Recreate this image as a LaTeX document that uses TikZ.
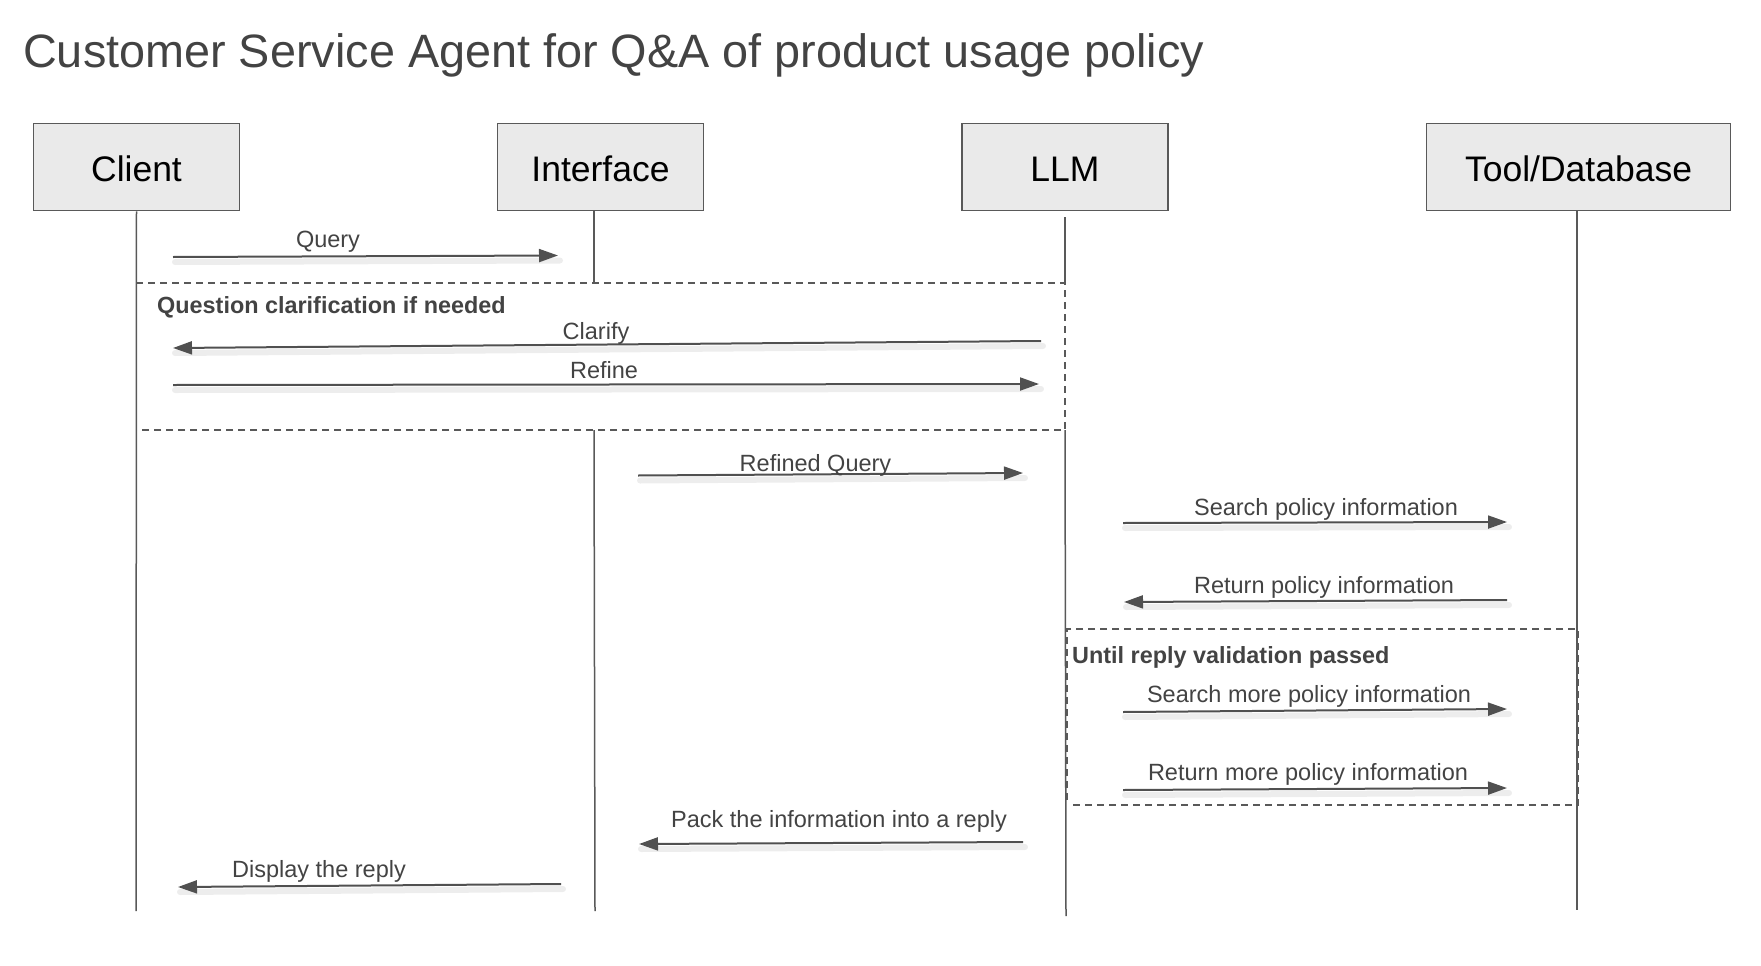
\documentclass[tikz,border=0pt]{standalone}
\usepackage{fontspec}
\setmainfont{Liberation Sans}
\usetikzlibrary{arrows.meta}
\definecolor{txtgray}{HTML}{434343}
\definecolor{linegray}{HTML}{595959}
\definecolor{arrgray}{HTML}{505050}
\definecolor{boxfill}{HTML}{EAEAEA}
\tikzset{
  actor/.style={draw=linegray, line width=1.6pt, fill=boxfill, minimum width=206pt, minimum height=87pt, inner sep=0pt, text height=29pt, text depth=0pt, font=\fontsize{35.5}{40}\selectfont, text=black},
  wideactor/.style={actor, minimum width=304pt},
  lifeline/.style={draw=linegray, line width=1.5pt},
  frame/.style={draw=linegray, line width=1.5pt, dash pattern=on 7pt off 5pt},
  msg/.style={draw=arrgray, line width=2pt, -{Triangle[length=19pt,width=13pt]}},
  msgshadow/.style={draw=black, opacity=0.07, line width=6pt, line cap=round},
  lbl/.style={anchor=base, inner sep=0pt, text=txtgray, font=\fontsize{23.5}{26}\selectfont},
  flbl/.style={anchor=base west, inner sep=0pt, text=txtgray, font=\fontsize{23.4}{26}\selectfont\bfseries},
}
\newcommand{\msgline}[2]{%
  \draw[msgshadow] ([shift={(2pt,-5pt)}]#1) -- ([shift={(2pt,-5pt)}]#2);
  \draw[msg] (#1) -- (#2);}
\begin{document}
\begin{tikzpicture}[x=1pt,y=-1pt]
\useasboundingbox (0,0) rectangle (1761,966);
% title
\node[anchor=base west, inner sep=0pt, text=txtgray, font=\fontsize{46.8}{52}\selectfont] (title) at (23,67.5) {Customer Service Agent for Q\&A of product usage policy};
% actors
\node[actor] (client) at (136.5,167) {Client};
\node[actor] (iface) at (600.5,167) {Interface};
\node[actor] (llm) at (1065,167) {LLM};
\node[wideactor] (tool) at (1578.5,167) {Tool/Database};
% lifeline coordinates
\coordinate (cB) at (136,911);
\coordinate (iT) at (594,211);
\coordinate (iM1) at (594,283);
\coordinate (iM2) at (594,430);
\coordinate (iB) at (595,911);
\coordinate (lT) at (1065,217);
\coordinate (lM1) at (1065,283);
\coordinate (lM2) at (1065,430);
\coordinate (lB) at (1066,916);
\coordinate (tB) at (1577,910);
\draw[lifeline] (client.south) -- (cB);
\draw[lifeline] (iT) -- (iM1);
\draw[lifeline] (iM2) -- (iB);
\draw[lifeline] (lT) -- (lM1);
\draw[lifeline] (lM2) -- (lB);
\draw[lifeline] (tool.south -| tB) -- (tB);
% frames
\coordinate (f1a) at (136,283);
\coordinate (f1b) at (1065,430);
\draw[frame] (f1a) -- (lM1) -- (f1b) -- (136,430);
\coordinate (f2a) at (1067,629);
\coordinate (f2b) at (1578,629);
\coordinate (f2c) at (1578,805);
\coordinate (f2d) at (1073,805);
\draw[frame] (f2d) -- (f2c) -- (f2b) -- (f2a) -- (1067,800);
\node[flbl] (f1lbl) at (157,313) {Question clarification if needed};
\node[flbl] (f2lbl) at (1072,663) {Until reply validation passed};
% messages
\coordinate (m1a) at (173,257);   \coordinate (m1b) at (558,255.5);
\coordinate (m2a) at (1041,341);  \coordinate (m2b) at (173,348);
\coordinate (m3a) at (173,385);   \coordinate (m3b) at (1039,384);
\coordinate (m4a) at (638,475.5); \coordinate (m4b) at (1023,473);
\coordinate (m5a) at (1123,523);  \coordinate (m5b) at (1507,522);
\coordinate (m6a) at (1507,600);  \coordinate (m6b) at (1124,602);
\coordinate (m7a) at (1123,712);  \coordinate (m7b) at (1507,709);
\coordinate (m8a) at (1123,790);  \coordinate (m8b) at (1507,788);
\coordinate (m9a) at (1023,842);  \coordinate (m9b) at (639,844);
\coordinate (m10a) at (561,884);  \coordinate (m10b) at (178,887);
\msgline{m1a}{m1b}
\msgline{m2a}{m2b}
\msgline{m3a}{m3b}
\msgline{m4a}{m4b}
\msgline{m5a}{m5b}
\msgline{m6a}{m6b}
\msgline{m7a}{m7b}
\msgline{m8a}{m8b}
\msgline{m9a}{m9b}
\msgline{m10a}{m10b}
\node[lbl] (l1) at (328,247) {Query};
\node[lbl] (l2) at (596,339) {Clarify};
\node[lbl] (l3) at (604,378) {Refine};
\node[lbl] (l4) at (815.5,471.5) {Refined Query};
\node[lbl] (l5) at (1326,515) {Search policy information};
\node[lbl] (l6) at (1324,593) {Return policy information};
\node[lbl] (l7) at (1309,702) {Search more policy information};
\node[lbl] (l8) at (1308,780) {Return more policy information};
\node[lbl] (l9) at (839,827) {Pack the information into a reply};
\node[lbl] (l10) at (319,877) {Display the reply};
\end{tikzpicture}
\end{document}
